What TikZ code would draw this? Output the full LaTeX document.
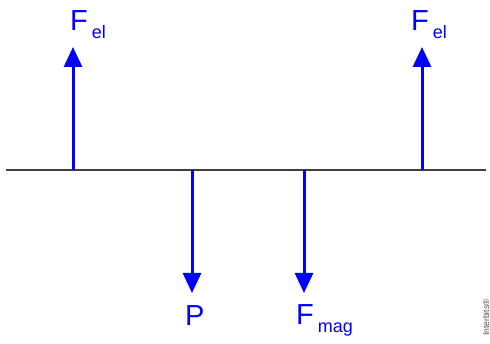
\documentclass[tikz,border=0pt]{standalone}
\usepackage{fontspec}
\setmainfont{Liberation Sans}
\usetikzlibrary{arrows.meta}
\definecolor{forceblue}{RGB}{0,0,255}
\definecolor{beamgray}{RGB}{64,64,64}
\newcommand{\forcelabel}[2]{#1\hspace{4pt}\raisebox{-8pt}{\fontsize{18}{18}\selectfont #2}}
\begin{document}
\begin{tikzpicture}[x=1pt,y=-1pt,
  beam/.style={draw=beamgray,line width=2pt},
  force/.style={draw=forceblue,line width=3pt,-{Triangle[length=20pt,width=18pt]}},
  flabel/.style={text=forceblue,font=\fontsize{29}{29}\selectfont,inner sep=0pt,anchor=base west}]
\useasboundingbox (0,0) rectangle (490,344);
\coordinate (L) at (6,170);
\coordinate (R) at (486,170);
\draw[beam] (L) -- (R);
\coordinate (a1) at (73,170);
\coordinate (a1t) at (73,47);
\coordinate (a2) at (422,170);
\coordinate (a2t) at (422,47);
\coordinate (p) at (192,170);
\coordinate (pt) at (192,293);
\coordinate (m) at (304,170);
\coordinate (mt) at (304,293);
\draw[force] (a1) -- (a1t);
\draw[force] (a2) -- (a2t);
\draw[force] (p) -- (pt);
\draw[force] (m) -- (mt);
\node[flabel] (fel1) at (70,31) {\forcelabel{F}{el}};
\node[flabel] (fel2) at (411,31) {\forcelabel{F}{el}};
\node[flabel] (plab) at (185,326) {P};
\node[flabel] (fmag) at (296,325) {\forcelabel{F}{mag}};
\node[text=black!70,font=\fontsize{8.5}{8.5}\selectfont,rotate=90,anchor=base west,inner sep=0pt] (wm) at (489,336) {Interbits®};
\end{tikzpicture}
\end{document}
